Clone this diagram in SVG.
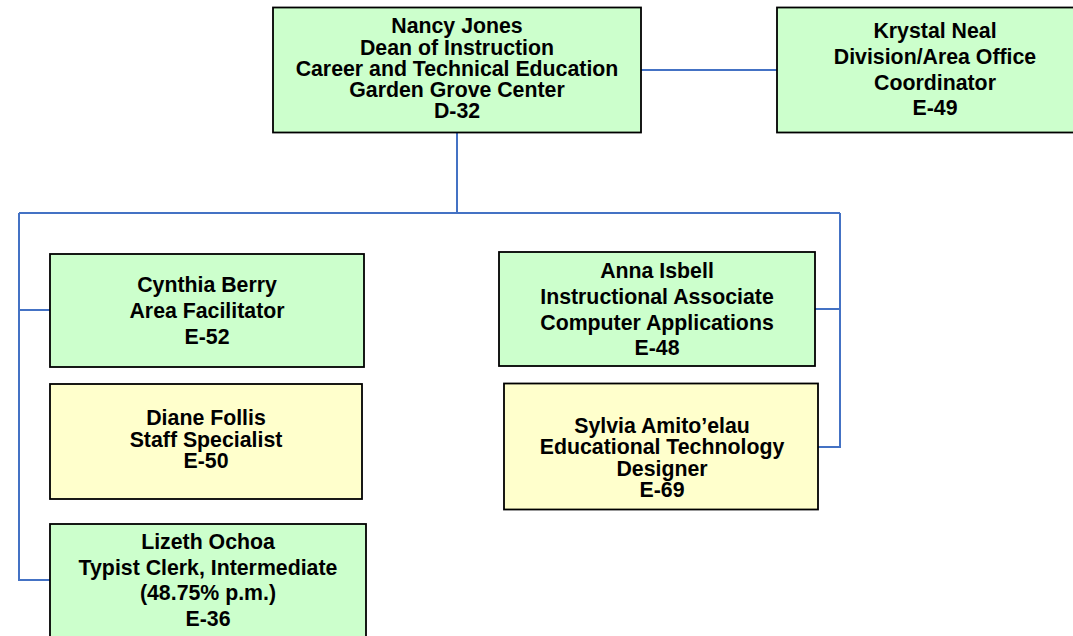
<svg xmlns="http://www.w3.org/2000/svg" width="1073" height="636" viewBox="0 0 1073 636">
<style>
.g{fill:#CCFFCC;stroke:#000;stroke-width:1.8}
.y{fill:#FFFFCC;stroke:#000;stroke-width:1.8}
text{font-family:"Liberation Sans",Arial,sans-serif;font-weight:bold;font-size:21.3px;fill:#000;text-anchor:middle}
.c{fill:none;stroke:#4472C4;stroke-width:2}
</style>
<rect width="1073" height="636" fill="#fff"/>
<g id="connectors">
<path class="c" d="M641,70H777"/>
<path class="c" d="M457,132V213"/>
<path class="c" d="M19,213H840"/>
<path class="c" d="M19,213V580H50"/>
<path class="c" d="M19,310H50"/>
<path class="c" d="M840,213V447H818"/>
<path class="c" d="M815,309H840"/>
</g>
<g id="nancy">
<rect class="g" x="273" y="7.5" width="368" height="125"/>
<text x="457" y="33.3">Nancy Jones</text>
<text x="457" y="54.5">Dean of Instruction</text>
<text x="457" y="75.8">Career and Technical Education</text>
<text x="457" y="97">Garden Grove Center</text>
<text x="457" y="118.2">D-32</text>
</g>
<g id="krystal">
<rect class="g" x="777" y="7.5" width="316" height="125"/>
<text x="935" y="38.3">Krystal Neal</text>
<text x="935" y="64">Division/Area Office</text>
<text x="935" y="89.5">Coordinator</text>
<text x="935" y="115">E-49</text>
</g>
<g id="cynthia">
<rect class="g" x="50" y="254" width="314" height="113"/>
<text x="207" y="291.7">Cynthia Berry</text>
<text x="207" y="317.7">Area Facilitator</text>
<text x="207" y="343.7">E-52</text>
</g>
<g id="diane">
<rect class="y" x="50" y="384" width="312" height="115"/>
<text x="206" y="425">Diane Follis</text>
<text x="206" y="446.5">Staff Specialist</text>
<text x="206" y="467.7">E-50</text>
</g>
<g id="lizeth">
<rect class="g" x="50" y="524" width="316" height="130"/>
<text x="208" y="549">Lizeth Ochoa</text>
<text x="208" y="574.5">Typist Clerk, Intermediate</text>
<text x="208" y="600">(48.75% p.m.)</text>
<text x="208" y="625.5">E-36</text>
</g>
<g id="anna">
<rect class="g" x="499" y="252" width="316" height="114"/>
<text x="657" y="278.3">Anna Isbell</text>
<text x="657" y="304">Instructional Associate</text>
<text x="657" y="329.7">Computer Applications</text>
<text x="657" y="355.4">E-48</text>
</g>
<g id="sylvia">
<rect class="y" x="504" y="383.5" width="314" height="126"/>
<text x="662" y="432.7">Sylvia Amito’elau</text>
<text x="662" y="454">Educational Technology</text>
<text x="662" y="475.5">Designer</text>
<text x="662" y="497">E-69</text>
</g>
</svg>
